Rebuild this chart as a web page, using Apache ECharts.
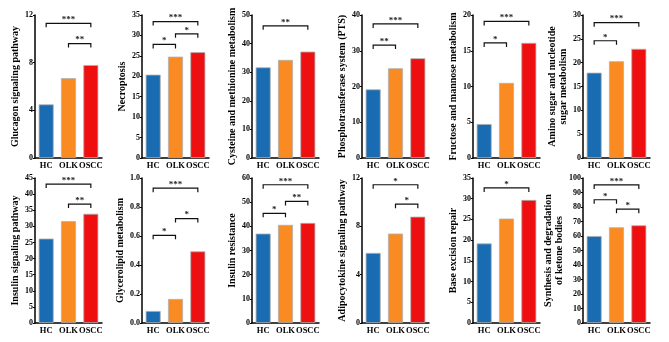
<!DOCTYPE html>
<html>
<head>
<meta charset="utf-8">
<script src="https://cdn.jsdelivr.net/npm/echarts@6/dist/echarts.min.js"></script>
<style>
  html, body { margin: 0; padding: 0; background: #fff; }
  #chart { width: 669px; height: 342px; }
</style>
</head>
<body>
<div id="chart"></div>
<script>
// groups on the x axis of every panel
const groups = ['HC', 'OLK', 'OSCC'];
const groupColors = ['#1a6cb2', '#f98b22', '#ee1010'];

// one entry per panel, left to right, top row first
const pathways = [
  'Glucagon signaling pathway',
  'Necroptosis',
  'Cysteine and methionine metabolism',
  'Phosphotransferase system (PTS)',
  'Fructose and mannose metabolism',
  'Amino sugar and nucleotide\nsugar metabolism',
  'Insulin signaling pathway',
  'Glycerolipid metabolism',
  'Insulin resistance',
  'Adipocytokine signaling pathway',
  'Base excision repair',
  'Synthesis and degradation\nof ketone bodies'
];
const hcValues   = [4.5, 20.4, 31.7, 19.2, 4.75, 17.9, 26.2, 0.083, 37.0, 5.8, 19.2, 60.0];
const olkValues  = [6.7, 24.8, 34.3, 25.1, 10.5, 20.3, 31.6, 0.166, 40.6, 7.4, 25.2, 66.0];
const osccValues = [7.8, 25.9, 37.2, 27.9, 16.1, 22.9, 33.9, 0.494, 41.4, 8.8, 29.7, 67.4];
const axisMax  = [12, 35, 50, 40, 20, 30, 45, 1.0, 60, 12, 35, 100];
const axisStep = [4, 5, 10, 10, 5, 5, 5, 0.2, 10, 4, 5, 10];

// significance brackets: [from group, to group, height, stars]
const brackets = [
  [[0, 2, 11.3, '***'], [1, 2, 9.6, '**']],
  [[0, 2, 33.4, '***'], [1, 2, 30.4, '*'], [0, 1, 27.8, '*']],
  [[0, 2, 46.2, '**']],
  [[0, 2, 37.5, '***'], [0, 1, 31.6, '**']],
  [[0, 2, 19.1, '***'], [0, 1, 16.1, '*']],
  [[0, 2, 28.4, '***'], [0, 1, 24.6, '*']],
  [[0, 2, 43.1, '***'], [1, 2, 36.9, '**']],
  [[0, 2, 0.93, '***'], [1, 2, 0.72, '*'], [0, 1, 0.605, '*']],
  [[0, 2, 57.2, '***'], [1, 2, 50.3, '**'], [0, 1, 45.4, '*']],
  [[0, 2, 11.44, '*'], [1, 2, 9.83, '*']],
  [[0, 2, 32.6, '*']],
  [[0, 2, 95.2, '***'], [0, 1, 85.0, '*'], [1, 2, 78.5, '*']]
];

const FONT = '"Liberation Serif", "Times New Roman", serif';
const colLeft = [35, 142, 252, 362, 473, 583];
const rowTop = [15, 178];
const rowHeight = [143, 145];

const chart = echarts.init(document.getElementById('chart'));

const grid = [], xAxis = [], yAxis = [], series = [];

pathways.forEach((name, i) => {
  const row = Math.floor(i / 6), col = i % 6;
  grid.push({ left: colLeft[col], top: rowTop[row], width: 67, height: rowHeight[row] });

  xAxis.push({
    type: 'category', gridIndex: i, data: groups,
    axisLine: { lineStyle: { color: '#000', width: 1.5 } },
    axisTick: { show: false },
    axisLabel: { color: '#000', fontFamily: FONT, fontWeight: 'bold', fontSize: 8.5, margin: 3, interval: 0 }
  });

  yAxis.push({
    type: 'value', gridIndex: i, min: 0, max: axisMax[i], interval: axisStep[i],
    name: name, nameLocation: 'middle', nameRotate: 90, nameGap: 10,
    nameTextStyle: { color: '#000', fontFamily: FONT, fontWeight: 'bold', fontSize: 10, lineHeight: 11 },
    splitLine: { show: false },
    axisLine: { show: true, lineStyle: { color: '#000', width: 1.5 } },
    axisTick: { show: true, length: 2, lineStyle: { color: '#000' } },
    axisLabel: {
      color: '#000', fontFamily: FONT, fontWeight: 'bold', fontSize: 8, margin: 2,
      formatter: v => axisStep[i] < 1 ? v.toFixed(1) : String(v)
    }
  });

  series.push({
    type: 'bar', xAxisIndex: i, yAxisIndex: i, barWidth: 15,
    data: [hcValues[i], olkValues[i], osccValues[i]].map((v, k) => ({
      value: v,
      itemStyle: { color: groupColors[k], borderColor: '#b0b0b0', borderWidth: 0.8 }
    })),
    animation: false
  });

  const marks = brackets[i];
  series.push({
    type: 'custom', xAxisIndex: i, yAxisIndex: i, animation: false, silent: true,
    data: marks.map(b => [b[0], b[1], b[2]]),
    renderItem: (params, api) => {
      const p1 = api.coord([api.value(0), api.value(2)]);
      const p2 = api.coord([api.value(1), api.value(2)]);
      return {
        type: 'group',
        children: [{
          type: 'polyline',
          shape: { points: [[p1[0], p1[1] + 4], p1, p2, [p2[0], p2[1] + 4]] },
          style: { stroke: '#111', lineWidth: 1.2, fill: null }
        }, {
          type: 'text',
          x: (p1[0] + p2[0]) / 2, y: p1[1] + 1,
          style: {
            text: marks[params.dataIndex][3], align: 'center', verticalAlign: 'bottom',
            font: 'bold 9px ' + FONT, fill: '#222'
          }
        }]
      };
    }
  });
});

chart.setOption({ animation: false, grid, xAxis, yAxis, series });
</script>
</body>
</html>
